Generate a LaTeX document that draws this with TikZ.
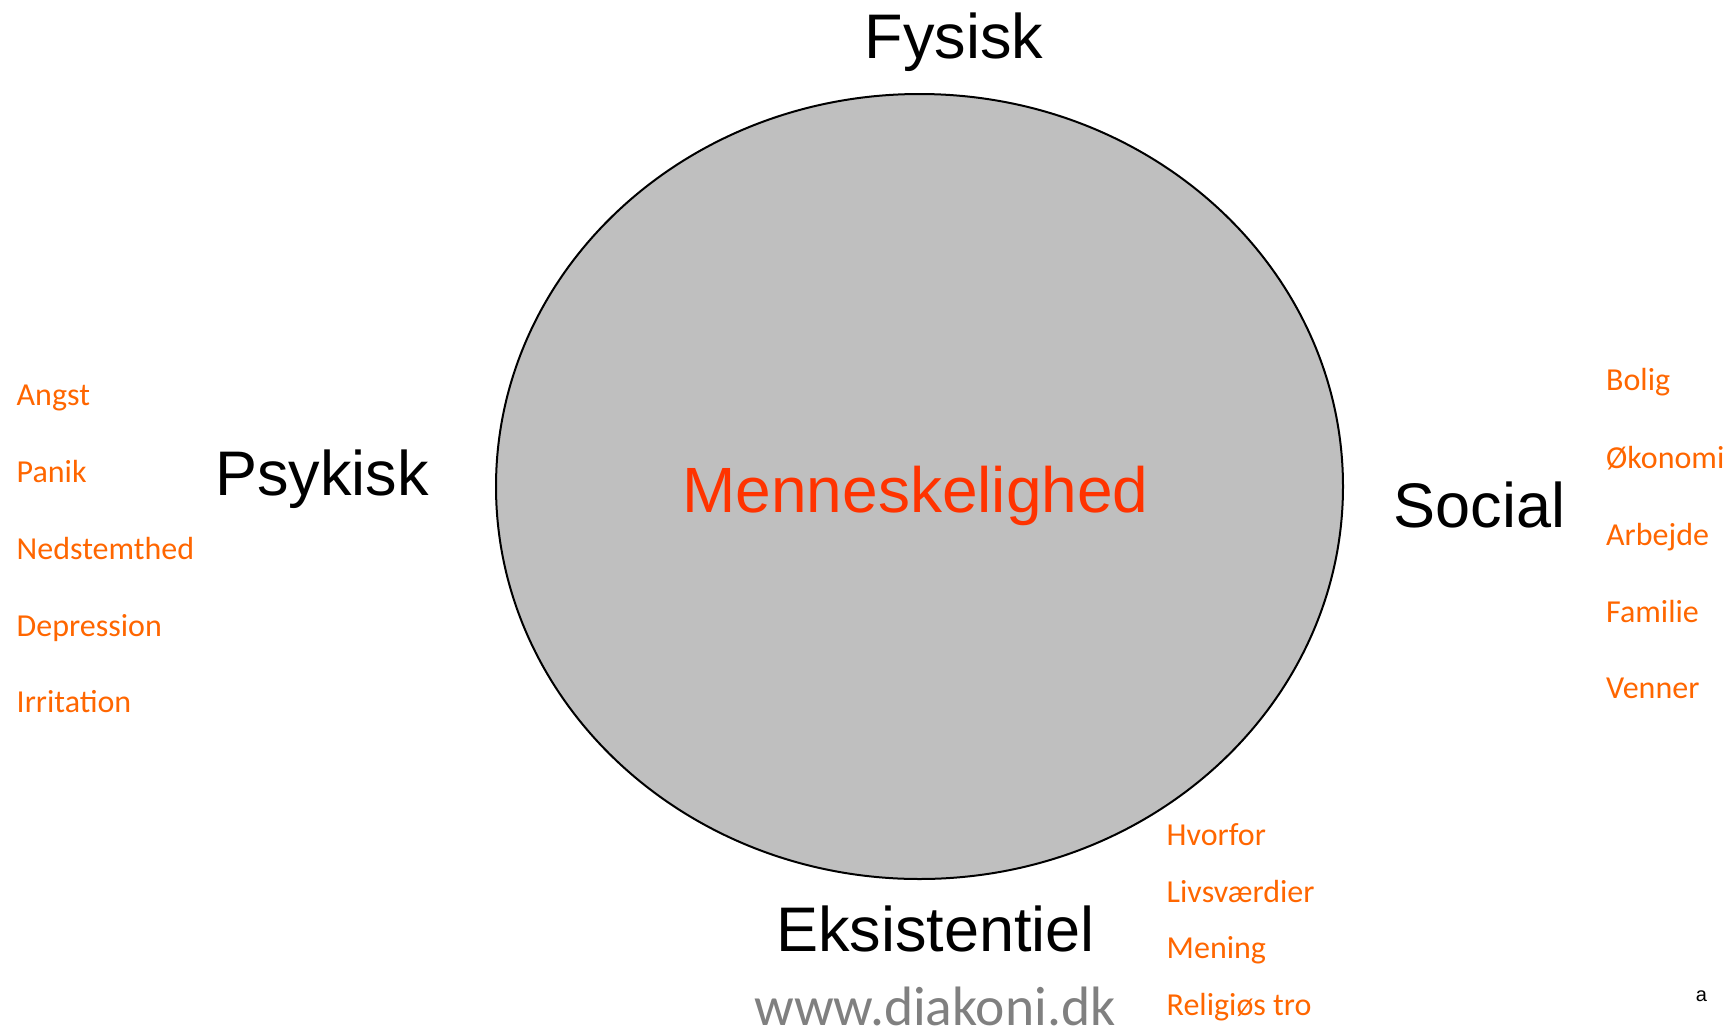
\documentclass[tikz,border=0pt]{standalone}
\usepackage{fontspec}
\setmainfont{Liberation Sans}
\newfontfamily\calib{Carlito}
\definecolor{listorange}{HTML}{FF6600}
\definecolor{centerred}{HTML}{FF3300}
\definecolor{ellgray}{HTML}{BFBFBF}
\definecolor{urlgray}{HTML}{808080}
\begin{document}
\begin{tikzpicture}[x=1pt,y=-1pt,
  big/.style={inner sep=0pt,anchor=base,font=\fontsize{63}{63}\selectfont},
  item/.style={inner sep=0pt,anchor=base west,text=listorange,font=\calib\fontsize{32}{32}\selectfont}]
\useasboundingbox (0,0) rectangle (1730,1026);
\draw[line width=2pt,fill=ellgray] (919.5,486.5) ellipse [x radius=423.5, y radius=392.5];
\node[big,text=centerred,font=\fontsize{64}{64}\selectfont] (center) at (915.5,512) {Menneskelighed};
\node[big] (fysisk) at (954,58) {Fysisk};
\node[big] (psykisk) at (322,495) {Psykisk};
\node[big] (social) at (1479.5,527) {Social};
\node[big] (eksist) at (935.6,951) {Eksistentiel};
% left list
\node[item] (l1) at (16.5,405) {Angst};
\node[item] (l2) at (16.5,482) {Panik};
\node[item] (l3) at (16.5,559) {Nedstemthed};
\node[item] (l4) at (16.5,636) {Depression};
\node[item] (l5) at (16.5,712) {Irritation};
% right list
\node[item] (r1) at (1606,390) {Bolig};
\node[item] (r2) at (1606,468) {Økonomi};
\node[item] (r3) at (1606,545) {Arbejde};
\node[item] (r4) at (1606,622) {Familie};
\node[item] (r5) at (1606,698) {Venner};
% bottom list
\node[item] (b1) at (1166.5,845) {Hvorfor};
\node[item] (b2) at (1166.5,902) {Livsværdier};
\node[item] (b3) at (1166.5,958) {Mening};
\node[item] (b4) at (1166.5,1015) {Religiøs tro};
% url
\node[inner sep=0pt,anchor=base west,text=urlgray,font=\calib\fontsize{55.5}{55.5}\selectfont] (url) at (754,1025) {www.diakoni.dk};
\node[inner sep=0pt,anchor=base,font=\fontsize{20}{20}\selectfont] (a) at (1701.5,1001.5) {a};
\end{tikzpicture}
\end{document}
